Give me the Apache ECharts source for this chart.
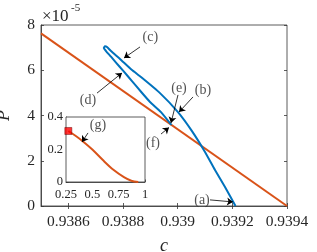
<!DOCTYPE html>
<html>
<head>
<meta charset="utf-8">
<script src="https://cdn.jsdelivr.net/npm/echarts@6/dist/echarts.min.js"></script>
<style>html,body{margin:0;padding:0;background:#fff;}#c{width:317px;height:252px;}</style>
</head>
<body>
<div id="c"></div>
<script>
// ---- data ----
var xTicks = [0.9386, 0.9388, 0.939, 0.9392, 0.9394];
var yTicks = [0, 2, 4, 6, 8];
// blue branch (c values, P in units of 1e-5): outer side up, round the tip, inner side down
var blueC = [0.9392116, 0.9391732, 0.9391366, 0.9391, 0.9390524, 0.9390012, 0.9389354, 0.9388659, 0.9388318, 0.938789, 0.9387561, 0.9387415, 0.9387341, 0.9387298, 0.9387378, 0.9387561, 0.9387744, 0.9388011, 0.9388329, 0.9388659, 0.9388988, 0.938939, 0.9389774];
var blueP = [0, 0.84, 1.59, 2.39, 3.31, 4.15, 4.99, 5.70, 6.02, 6.50, 6.85, 7.03, 7.06, 6.98, 6.85, 6.60, 6.34, 5.97, 5.52, 5.05, 4.60, 4.15, 3.58];
// orange straight branch
var orangeC = [0.9385, 0.9394];
var orangeP = [7.63, 0];
// inset curve
var insetX = [0.272, 0.35, 0.414, 0.5, 0.6, 0.7, 0.8, 0.87, 0.936];
var insetY = [0.314, 0.28, 0.248, 0.2, 0.135, 0.075, 0.03, 0.008, 0];
var insetMarker = [0.272, 0.314];
// annotations: label, label position, arrow start, arrow end (data coords)
var annLabels = ['(a)', '(b)', '(c)', '(d)', '(e)', '(f)'];
var annLabelPos = [[0.939089, 0.27], [0.9390927, 5.13], [0.9389, 7.47], [0.938672, 4.69], [0.9390049, 5.22], [0.9389098, 2.78]];
var annFrom = [[0.9391183, 0.27], [0.9390561, 4.82], [0.9388622, 7.03], [0.9387049, 4.99], [0.9390012, 4.91], [0.938939, 3.18]];
var annTo = [[0.9392024, 0.18], [0.9390049, 4.15], [0.9388037, 6.54], [0.9387963, 5.88], [0.9389756, 3.67], [0.9389683, 3.47]];
var insetAnnLabel = '(g)';
var insetAnnPos = [0.554, 0.351];
var insetAnnFrom = [0.459, 0.302];
var insetAnnTo = [0.402, 0.246];

var FONT = "'Liberation Serif', 'Times New Roman', serif";
var AX = '#333';
var BLUE = '#0072BD', ORANGE = '#D95319';

function zip(a, b) { return a.map(function (v, i) { return [v, b[i]]; }); }
function fmtX(v) { return String(+(+v).toFixed(4)); }
function fmtY(v) { return String(+(+v).toFixed(2)); }

var chart = echarts.init(document.getElementById('c'));

var mainTickCommon = { inside: true, length: 3, lineStyle: { color: AX, width: 0.8 } };

var option = {
  animation: false,
  backgroundColor: '#fff',
  grid: [
    { left: 41, top: 25, right: 30, bottom: 46, show: true, borderColor: AX, borderWidth: 0.8, backgroundColor: 'transparent', containLabel: false, outerBoundsMode: 'none' },
    { left: 66, top: 117, right: 172, bottom: 70, show: true, borderColor: AX, borderWidth: 0.8, backgroundColor: '#fff', z: 5, containLabel: false, outerBoundsMode: 'none' }
  ],
  xAxis: [
    { gridIndex: 0, type: 'value', min: 0.9385, max: 0.9394, position: 'bottom',
      axisLine: { show: true, lineStyle: { color: AX, width: 0.8 } },
      axisTick: Object.assign({ customValues: xTicks }, mainTickCommon),
      axisLabel: { customValues: xTicks, formatter: fmtX, color: '#262626', fontFamily: FONT, fontSize: 15.5, margin: 8 },
      splitLine: { show: false },
      name: 'c', nameLocation: 'middle', nameGap: 31,
      nameTextStyle: { fontFamily: FONT, fontStyle: 'italic', fontSize: 18, color: '#262626' } },
    { gridIndex: 0, type: 'value', min: 0.9385, max: 0.9394, position: 'top',
      axisLine: { show: false },
      axisTick: Object.assign({ customValues: xTicks }, mainTickCommon),
      axisLabel: { show: false }, splitLine: { show: false } },
    { gridIndex: 1, type: 'value', min: 0.25, max: 1, interval: 0.25,
      axisLine: { show: true, lineStyle: { color: AX, width: 0.8 } },
      axisTick: { inside: true, length: 2.5, lineStyle: { color: AX, width: 0.8 } },
      axisLabel: { formatter: fmtY, color: '#262626', fontFamily: FONT, fontSize: 12.5, margin: 6 },
      splitLine: { show: false } }
  ],
  yAxis: [
    { gridIndex: 0, type: 'value', min: 0, max: 8, interval: 2, position: 'left',
      axisLine: { show: true, lineStyle: { color: AX, width: 0.8 } },
      axisTick: mainTickCommon,
      axisLabel: { formatter: fmtY, color: '#262626', fontFamily: FONT, fontSize: 15.5, margin: 6 },
      splitLine: { show: false },
      name: 'P', nameLocation: 'middle', nameGap: 28, nameRotate: 90,
      nameTextStyle: { fontFamily: FONT, fontStyle: 'italic', fontSize: 18, color: '#262626' } },
    { gridIndex: 0, type: 'value', min: 0, max: 8, interval: 2, position: 'right',
      axisLine: { show: false }, axisTick: mainTickCommon,
      axisLabel: { show: false }, splitLine: { show: false } },
    { gridIndex: 1, type: 'value', min: 0, max: 0.4, interval: 0.2,
      axisLine: { show: true, lineStyle: { color: AX, width: 0.8 } },
      axisTick: { inside: true, length: 2.5, lineStyle: { color: AX, width: 0.8 } },
      axisLabel: { formatter: fmtY, color: '#262626', fontFamily: FONT, fontSize: 12.5, margin: 3 },
      splitLine: { show: false } }
  ],
  graphic: [
    { type: 'text', left: 42, top: 8, z: 10, style: { text: '\u00d710', font: '17px ' + FONT, fill: '#262626' } },
    { type: 'text', left: 71, top: 3, z: 10, style: { text: '-5', font: '11px ' + FONT, fill: '#262626' } }
  ],
  series: [
    { type: 'line', xAxisIndex: 0, yAxisIndex: 0, data: zip(orangeC, orangeP), showSymbol: false, symbol: 'none',
      lineStyle: { color: ORANGE, width: 2 }, z: 2 },
    { type: 'line', xAxisIndex: 0, yAxisIndex: 0, data: zip(blueC, blueP), showSymbol: false, symbol: 'none', smooth: 0.15,
      lineStyle: { color: BLUE, width: 2, join: 'round' }, z: 3 },
    { type: 'lines', coordinateSystem: 'cartesian2d', xAxisIndex: 0, yAxisIndex: 0, z: 4,
      symbol: ['none', 'arrow'], symbolSize: 6,
      lineStyle: { color: '#000', width: 0.8, opacity: 1 },
      data: annFrom.map(function (f, i) { return { coords: [f, annTo[i]] }; }) },
    { type: 'scatter', xAxisIndex: 0, yAxisIndex: 0, symbolSize: 0, z: 4,
      label: { show: true, position: 'inside', formatter: function (p) { return p.name; }, fontFamily: FONT, fontSize: 14, color: '#262626' },
      data: annLabels.map(function (l, i) { return { name: l, value: annLabelPos[i] }; }) },
    // inset
    { type: 'line', xAxisIndex: 2, yAxisIndex: 2, data: zip(insetX, insetY), showSymbol: false, symbol: 'none', smooth: 0.3,
      lineStyle: { color: ORANGE, width: 2 }, z: 6 },
    { type: 'scatter', xAxisIndex: 2, yAxisIndex: 2, data: [insetMarker], symbol: 'rect', symbolSize: 7,
      itemStyle: { color: '#FF0000', borderColor: '#600', borderWidth: 0.6 }, z: 7 },
    { type: 'lines', coordinateSystem: 'cartesian2d', xAxisIndex: 2, yAxisIndex: 2, z: 7,
      symbol: ['none', 'arrow'], symbolSize: 6,
      lineStyle: { color: '#000', width: 0.8, opacity: 1 },
      data: [{ coords: [insetAnnFrom, insetAnnTo] }] },
    { type: 'scatter', xAxisIndex: 2, yAxisIndex: 2, symbolSize: 0, z: 7,
      label: { show: true, position: 'inside', formatter: function (p) { return p.name; }, fontFamily: FONT, fontSize: 14, color: '#262626' },
      data: [{ name: insetAnnLabel, value: insetAnnPos }] }
  ]
};
chart.setOption(option);
</script>
</body>
</html>
